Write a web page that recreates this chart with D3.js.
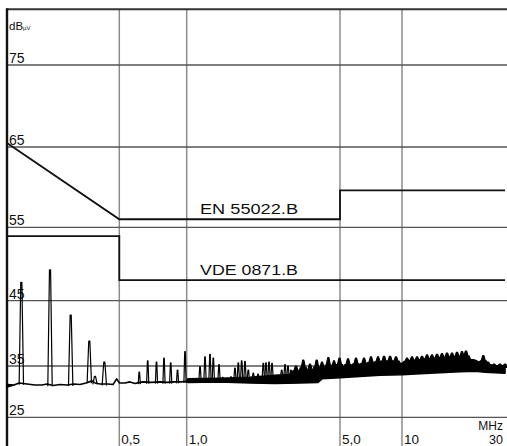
<!DOCTYPE html>
<html><head><meta charset="utf-8">
<script src="https://cdn.jsdelivr.net/npm/d3@7"></script>
<style>
body{margin:0;background:#fff}
svg{display:block}
text{font-family:"Liberation Sans",Arial,sans-serif;fill:#111}
</style>
</head><body>
<svg id="c" width="507" height="446"></svg>
<script>
// ---- data ----
const yTicks = [25, 35, 45, 55, 65, 75];
const xTicks = [0.5, 1, 5, 10];
const xTickLabels = ["0,5", "1,0", "5,0", "10"];
const xEndLabel = "30";

// limit lines
const enF  = [0.15, 0.5, 5, 5, 30];
const enDb = [65.5, 56, 56, 59.6, 59.6];
const vdeF  = [0.15, 0.5, 0.5, 30];
const vdeDb = [53.8, 53.8, 47.8, 47.8];

// measured noise floor (lower / upper edge of the trace band)
const floorF  = [0.15,0.1617,0.1706,0.1859,0.2025,0.2183,0.2303,0.2456,0.2648,0.2853,0.3077,0.3281,0.3499,0.3731,0.3853,0.4066,0.443,0.4674,0.486,0.5,0.53,0.558,0.5876,0.638,0.6927,0.76,0.8167,0.8776,0.943,0.995,1.0137,1.4185,1.9437,2.527,3.285,3.969,4.139,5.0,7.82,10,13.48,18.56,21.78,24.24,30];
const floorLo = [30.9,31.3,31.7,31.5,31.3,31.3,31.5,31.2,31.4,31.3,31.5,31.4,31.7,32.1,31.7,31.5,31.5,31.4,32.5,31.7,31.7,31.9,31.6,31.9,31.8,31.9,31.8,31.9,31.9,32.0,31.8,31.9,31.7,31.6,31.7,31.8,32.5,32.7,33.2,33.3,33.6,33.9,34.0,33.8,33.6];
const floorHi = [31.4,31.3,31.7,31.5,31.3,31.3,31.5,31.2,31.4,31.3,31.5,31.4,31.7,32.1,31.7,31.5,31.5,31.4,32.5,31.7,31.7,31.9,31.6,31.9,31.8,31.9,31.8,31.9,31.9,32.0,32.5,32.6,32.8,33.2,33.5,33.6,33.8,34.3,35.2,35.4,35.8,36.1,35.9,35.1,35.0];

// measured emission peaks
const peakF  = [0.1749,0.2379,0.2969,0.3625,0.3853,0.4258,0.614,0.6696,0.733,0.7918,0.8483,0.910,0.9826,
  1.150,1.212,1.277,1.322,1.404,1.459,1.592,1.660,1.719,1.781,1.844,1.909,2.012,2.114,2.235,2.299,2.373,2.449,2.581,2.711,2.807,2.896,2.989,
  3.150,3.401,3.649,3.915,4.139,4.422,4.695,4.974,5.47,5.98,6.54,7.07,7.65,8.18,8.75,9.35,
  10.55,11.13,11.74,12.38,13.06,13.77,14.53,15.32,16.16,17.05,17.98,18.96,19.79,21.10,22.49,23.80,25.03,26.68,28.44,30];
const peakDb = [47.5,49.2,42.8,38.8,33.0,35.6,33.8,35.8,35.6,36.2,35.5,34.2,37.2,
  34.9,36.4,36.8,36.2,35.2,32.8,32.9,34.6,35.5,35.8,35.7,34.2,33.6,33.4,35.4,35.5,35.6,35.4,33.2,34.2,35.2,35.0,34.2,
  35.0,35.9,35.3,35.9,35.6,36.3,35.8,36.2,36.1,36.2,36.2,36.4,36.4,36.5,36.5,36.4,
  36.2,36.4,36.4,36.5,36.7,36.7,36.8,36.9,37.0,37.0,37.1,37.2,37.3,35.9,35.6,36.6,35.6,35.3,35.3,35.3];

// ---- scales ----
const x = d3.scaleLog().domain([0.15, 0.5, 1, 5, 10, 30]).range([7, 119.3, 186.7, 340, 402, 505]);
const y = d3.scaleLinear().domain([25, 35, 45, 55, 65, 75]).range([417.3, 366, 300.7, 227.3, 147, 65]);
const yTop = 81.8, yBottom = 15;

const svg = d3.select("#c");

// grid
svg.append("g").selectAll("line").data(xTicks).join("line")
  .attr("x1", d => x(d)).attr("x2", d => x(d))
  .attr("y1", y(yTop)).attr("y2", y(yBottom))
  .attr("stroke", "#8c8c8c").attr("stroke-width", 1.5);
svg.append("g").selectAll("line").data(yTicks).join("line")
  .attr("x1", x(0.15)).attr("x2", 507)
  .attr("y1", d => y(d)).attr("y2", d => y(d))
  .attr("stroke", "#555").attr("stroke-width", 1.3);
// frame
svg.append("line").attr("x1", x(0.15)).attr("x2", 507).attr("y1", y(yTop)).attr("y2", y(yTop))
  .attr("stroke", "#333").attr("stroke-width", 2);
svg.append("line").attr("x1", x(0.15)).attr("x2", x(0.15)).attr("y1", y(yTop) - 1).attr("y2", 446)
  .attr("stroke", "#111").attr("stroke-width", 2.4);

// tick labels
svg.append("g").selectAll("text").data(yTicks).join("text")
  .attr("x", 9).attr("y", d => y(d) - 2).attr("font-size", 14).text(d => d);
svg.append("g").selectAll("text").data(xTicks).join("text")
  .attr("x", d => x(d) + 2).attr("y", 444).attr("font-size", 13.5)
  .text((d, i) => xTickLabels[i]);
svg.append("text").attr("x", 503).attr("y", 444).attr("text-anchor", "end").attr("font-size", 12.5).text(xEndLabel);
svg.append("text").attr("x", 503).attr("y", 430).attr("text-anchor", "end").attr("font-size", 12).text("MHz");
const u = svg.append("text").attr("x", 9).attr("y", 30).attr("font-size", 11.5);
u.append("tspan").text("dB");
u.append("tspan").attr("font-size", 6).text("µV");

// limit lines
const lim = d3.line().x(d => x(d[0])).y(d => y(d[1]));
svg.append("path").attr("d", lim(d3.zip(enF, enDb))).attr("fill", "none").attr("stroke", "#111").attr("stroke-width", 1.8);
svg.append("path").attr("d", lim(d3.zip(vdeF, vdeDb))).attr("fill", "none").attr("stroke", "#111").attr("stroke-width", 1.8);
svg.append("text").attr("x", 200).attr("y", 214).attr("font-size", 15)
  .attr("textLength", 98).attr("lengthAdjust", "spacingAndGlyphs").text("EN 55022.B");
svg.append("text").attr("x", 200).attr("y", 275).attr("font-size", 15)
  .attr("textLength", 98).attr("lengthAdjust", "spacingAndGlyphs").text("VDE 0871.B");

// measurement trace: noise band
const band = d3.area().x(d => x(d[0])).y0(d => y(d[1])).y1(d => y(d[2]));
svg.append("path").attr("d", band(d3.zip(floorF, floorLo, floorHi)))
  .attr("fill", "#000").attr("stroke", "#000").attr("stroke-width", 1.6).attr("stroke-linejoin", "round");

// peaks
const base = d3.scaleLog().domain(floorF).range(floorHi);
const pk = d3.zip(peakF, peakDb);
svg.append("g").selectAll("path").data(pk).join("path")
  .attr("d", d => {
    const f = d[0], xc = x(f), yt = y(d[1]), yb = y(base(f)) + 1.5;
    const big = f >= 3;
    const hw = f < 0.5 ? 2.2 : (big ? 5.2 : 1.1);
    if (big) {
      const ym = yt + (yb - yt) * 0.5;
      return `M${xc - hw},${yb}L${xc - hw * 0.6},${ym}L${xc - hw * 0.4},${ym}L${xc - 0.6},${yt}L${xc + 0.6},${yt}L${xc + hw * 0.4},${ym}L${xc + hw * 0.6},${ym}L${xc + hw},${yb}Z`;
    }
    return `M${xc - hw},${yb}L${xc - hw * 0.25},${yt}L${xc + hw * 0.25},${yt}L${xc + hw},${yb}`;
  })
  .attr("fill", d => d[0] >= 3 ? "#000" : "none")
  .attr("stroke", "#000").attr("stroke-width", d => d[0] >= 3 ? 1.1 : 1.2)
  .attr("stroke-linejoin", "round");
</script>
</body></html>
